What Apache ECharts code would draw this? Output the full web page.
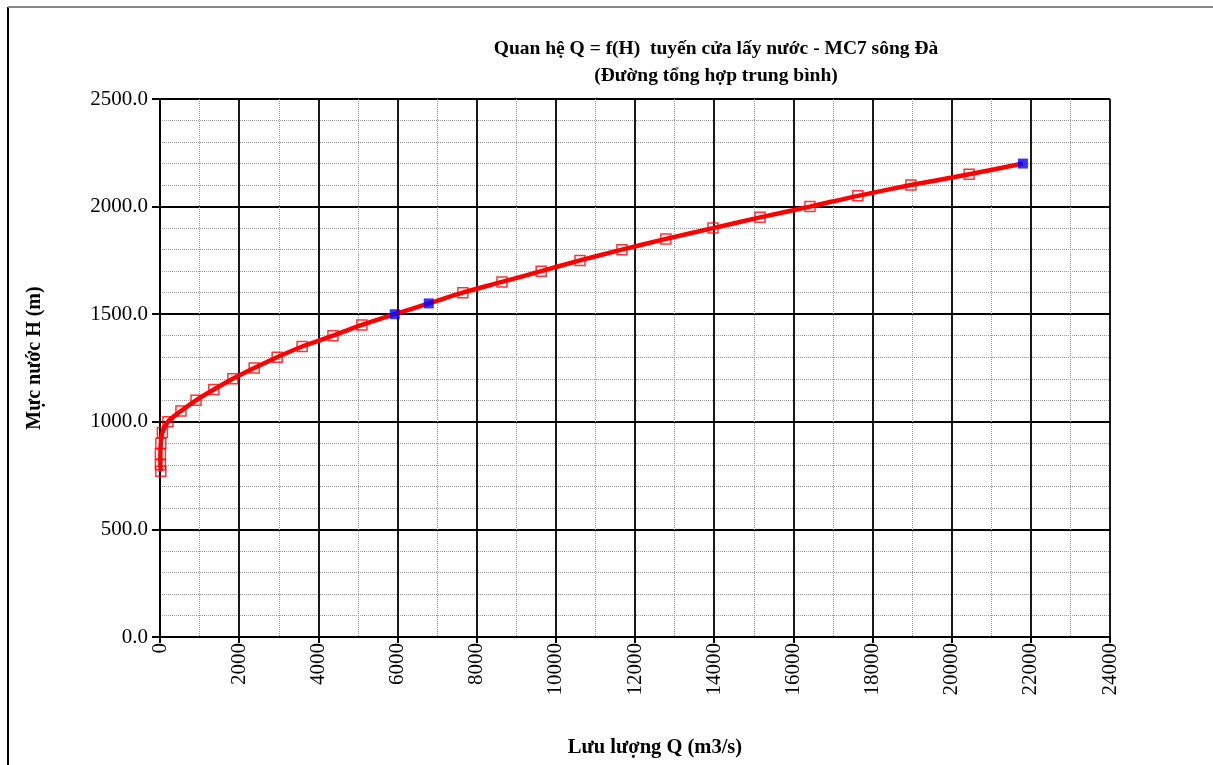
<!DOCTYPE html>
<html>
<head>
<meta charset="utf-8">
<script src="https://cdn.jsdelivr.net/npm/echarts@6/dist/echarts.min.js"></script>
<style>html,body{margin:0;padding:0;background:#fff;}#chart{width:1213px;height:765px;}</style>
</head>
<body>
<div id="chart"></div>
<script>
// Measured points (hollow red squares): discharge Q (m3/s) and water level H (m)
const redQ = [20, 10, 10, 20, 60, 200, 530, 910, 1360, 1840, 2380, 2960, 3590, 4370, 5100, 7650, 8640, 9630, 10610, 11670, 12780, 13970, 15160, 16420, 17630, 18970, 20440];
const redH = [770, 800, 850, 900, 950, 1000, 1050, 1100, 1150, 1200, 1250, 1300, 1350, 1400, 1450, 1600, 1650, 1700, 1750, 1800, 1850, 1900, 1950, 2000, 2050, 2100, 2150];
// Highlighted points (filled blue squares)
const blueQ = [5930, 6790, 21800];
const blueH = [1500, 1550, 2200];

const titleText = 'Quan hệ Q = f(H)  tuyến cửa lấy nước - MC7 sông Đà';
const subtitleText = '(Đường tổng hợp trung bình)';
const xName = 'Lưu lượng Q (m3/s)';
const yName = 'Mực nước H (m)';

const redPts = redQ.map((q, i) => [q, redH[i]]);
const bluePts = blueQ.map((q, i) => [q, blueH[i]]);
const curve = redPts.concat(bluePts).sort((a, b) => a[1] - b[1]);

const serif = 'Liberation Serif';
const chart = echarts.init(document.getElementById('chart'));
chart.setOption({
  backgroundColor: '#fff',
  animation: false,
  graphic: [
    { type: 'line', shape: { x1: 8, y1: 7, x2: 8, y2: 765 }, style: { stroke: '#000', lineWidth: 2 } },
    { type: 'line', shape: { x1: 8, y1: 7, x2: 1213, y2: 7 }, style: { stroke: '#888', lineWidth: 2 } }
  ],
  title: [
    { text: titleText, left: 711, top: 34, textAlign: 'center',
      textStyle: { fontFamily: serif, fontWeight: 'bold', fontSize: 19.5, color: '#000' } },
    { text: subtitleText, left: 711, top: 61, textAlign: 'center',
      textStyle: { fontFamily: serif, fontWeight: 'bold', fontSize: 19.5, color: '#000' } }
  ],
  grid: { left: 160, right: 103, top: 99, bottom: 128, containLabel: false, outerBoundsMode: 'none' },
  xAxis: {
    type: 'value', min: 0, max: 24000, interval: 2000,
    name: xName, nameLocation: 'middle', nameGap: 100,
    nameTextStyle: { fontFamily: serif, fontWeight: 'bold', fontSize: 20.5, color: '#000', padding: [0, 0, 0, 40] },
    axisLine: { show: true, onZero: false, lineStyle: { color: '#000', width: 2 } },
    axisTick: { show: true, length: 6, lineStyle: { color: '#000', width: 2 } },
    axisLabel: { rotate: 90, margin: 6, fontFamily: serif, fontSize: 21, color: '#000',
      formatter: v => String(v) },
    splitLine: { show: true, lineStyle: { color: '#000', width: 1.8 } },
    minorTick: { show: false, splitNumber: 2 },
    minorSplitLine: { show: true, lineStyle: { color: '#999', type: 'dotted', width: 1 } }
  },
  yAxis: {
    type: 'value', min: 0, max: 2500, interval: 500,
    name: yName, nameLocation: 'middle', nameGap: 115, nameRotate: 90,
    nameTextStyle: { fontFamily: serif, fontWeight: 'bold', fontSize: 20, color: '#000', padding: [0, 0, 0, 20] },
    axisLine: { show: true, onZero: false, lineStyle: { color: '#000', width: 2 } },
    axisTick: { show: true, length: 8, lineStyle: { color: '#000', width: 2 } },
    axisLabel: { margin: 12, fontFamily: serif, fontSize: 21, color: '#000',
      formatter: v => v.toFixed(1) },
    splitLine: { show: true, lineStyle: { color: '#000', width: 1.8 } },
    minorTick: { show: false, splitNumber: 5 },
    minorSplitLine: { show: true, lineStyle: { color: '#999', type: 'dotted', width: 1 } }
  },
  series: [
    { type: 'line', data: curve, smooth: 0.3, showSymbol: false, symbol: 'none',
      lineStyle: { color: '#ff0000', width: 4.5 }, z: 2, silent: true },
    { type: 'scatter', data: redPts, symbol: 'rect', symbolSize: 10,
      itemStyle: { color: 'rgba(0,0,0,0)', borderColor: '#ff0000', borderWidth: 1.5 }, z: 3 },
    { type: 'scatter', data: bluePts, symbol: 'rect', symbolSize: 10,
      itemStyle: { color: '#0000ff' }, z: 4 }
  ]
});
</script>
</body>
</html>
